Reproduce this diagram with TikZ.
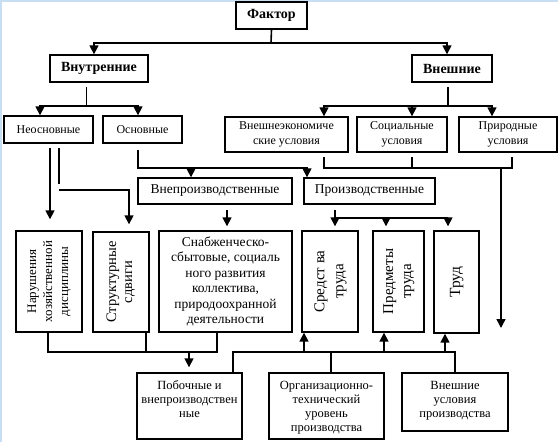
\documentclass[tikz,border=0pt]{standalone}
\usepackage{fontspec}
\setmainfont{Liberation Serif}
\usepackage{graphicx}
\usetikzlibrary{arrows.meta}
\definecolor{edgeblue}{RGB}{200,222,242}
\newcommand\tbox[4]{\parbox[c][#2][t]{#1}{\centering\rule{0pt}{#3}#4\par}}
\newcommand\vtext[1]{\rotatebox{90}{\begin{tabular}{@{}c@{}}#1\end{tabular}}}
\begin{document}
\begin{tikzpicture}[x=1pt,y=-1pt,
  box/.style={draw, line width=1.4pt, inner sep=0pt, align=center},
  bigf/.style={font=\fontsize{14}{16}\selectfont\bfseries},
  midf/.style={font=\fontsize{12}{15}\selectfont},
  medf/.style={font=\fontsize{13.5}{15.5}\selectfont},
  lowf/.style={font=\fontsize{12.5}{14.3}\selectfont},
  conn/.style={line width=1.6pt},
  thinconn/.style={line width=1pt},
  arr/.style={conn, -{Triangle[width=9pt,length=9pt]}}]
\useasboundingbox (0,0) rectangle (558,442);
\fill[edgeblue] (0,0) rectangle (2,442);
\fill[edgeblue] (0,0) rectangle (558,2);

% boxes
\node[box, bigf, minimum width=71, minimum height=27] (factor) at (271.5,15.5) {Фактор};
\node[box, bigf, minimum width=98, minimum height=27] (vnutr) at (99,68.5) {Внутренние};
\node[box, bigf, minimum width=80, minimum height=27] (vnesh) at (452,68.5) {Внешние};
\node[box, midf, minimum width=89, minimum height=27] (neosn) at (48.5,129.5) {Неосновные};
\node[box, midf, minimum width=79, minimum height=27] (osn) at (142.5,129.5) {Основные};
\node[box, midf, minimum width=123, minimum height=35] (vneshek) at (286.5,134.5) {Внешнеэкономиче\\ские условия};
\node[box, midf, minimum width=90, minimum height=35] (soc) at (402,134.5) {Социальные\\условия};
\node[box, midf, minimum width=98, minimum height=35] (prir) at (508,134.5) {Природные\\условия};
\node[box, medf, minimum width=154, minimum height=26] (vneproizv) at (215,191) {Внепроизводственные};
\node[box, medf, minimum width=131, minimum height=26] (proizv) at (369.5,191) {Производственные};
\node[box, font=\fontsize{13}{16}\selectfont, minimum width=66, minimum height=101] (narush) at (49,281.5) {\vtext{Нарушения\\хозяйственной\\дисциплины}};
\node[box, font=\fontsize{14.5}{16}\selectfont, minimum width=56, minimum height=100] (strukt) at (121,282) {\vtext{Структурные\\сдвиги}};
\node[box, medf, minimum width=133, minimum height=101] (snab) at (225.5,281.5) {Снабженческо-\\сбытовые, социаль\\ного развития\\коллектива,\\природоохранной\\деятельности};
\node[box, font=\fontsize{15}{19}\selectfont, minimum width=56, minimum height=101] (sredst) at (330,281.5) {\vtext{Средст ва\\труда}};
\node[box, font=\fontsize{15}{18}\selectfont, minimum width=51, minimum height=101] (predm) at (398.5,281.5) {\vtext{Предметы\\труда}};
\node[box, font=\fontsize{15.5}{18}\selectfont, minimum width=45, minimum height=102] (trud) at (456.5,282) {\vtext{Труд}};
\node[box, lowf] (poboch) at (189.5,406) {\tbox{105pt}{66pt}{16pt}{Побочные и\\внепроизводствен\\ные}};
\node[box, lowf] (org) at (326.5,406) {\tbox{115pt}{66pt}{16pt}{Организационно-\\технический\\уровень\\производства}};
\node[box, lowf] (vneshusl) at (455,402) {\tbox{106pt}{58pt}{16pt}{Внешние\\условия\\производства}};

% Factor -> internal / external
\coordinate (fJ) at (271,43);
\draw[conn] (factor.south) -- (fJ);
\draw[arr] (fJ) -| ([xshift=-5pt]vnutr.north);
\draw[arr] (fJ) -| ([xshift=-5pt]vnesh.north);

% internal -> neosn / osn
\coordinate (iA) at (86,87);
\coordinate (iJ) at (86,106);
\draw[thinconn] (iA) -- (iJ);
\draw[arr] (iJ) -| ([xshift=-8.5pt]neosn.north);
\draw[arr] (iJ) -| ([xshift=-4.5pt]osn.north);

% external -> three conditions
\coordinate (eA) at (448,87);
\coordinate (eJ) at (448,106);
\draw[conn] (eA) -- (eJ);
\draw[arr] (eJ) -| ([xshift=37.5pt]vneshek.north);
\draw[arr] (eJ) -| ([xshift=10pt]soc.north);
\draw[arr] (eJ) -| ([xshift=-16pt]prir.north);

% conditions collector -> free arrow
\coordinate (c1) at (324,157);
\coordinate (c2) at (412,157);
\coordinate (c3) at (512,157);
\coordinate (c1b) at (324,168);
\coordinate (c3b) at (512,168);
\coordinate (xJ) at (501,168);
\coordinate (xEnd) at (501,328);
\draw[conn] (c1) -- (c1b) -- (c3b) -- (c3);
\draw[conn] (c2) -- (c2 |- c1b);
\draw[arr] (xJ) -- (xEnd);

% osn -> vneproizv / proizv
\coordinate (oA) at (138,150);
\coordinate (oJ) at (138,168);
\draw[arr] (oA) -- (oJ) -| ([xshift=-62.5pt]proizv.north);
\draw[arr] (oJ) -| ([xshift=-24pt]vneproizv.north);

% neosn -> narush / strukt
\coordinate (n1) at (50,148);
\draw[arr, shorten >=11pt] (n1) -- (n1 |- narush.north);
\coordinate (n2) at (59,148);
\coordinate (n2e) at (59,184);
\coordinate (n2b) at (59,190);
\draw[conn] (n2) -- (n2e);
\draw[arr, shorten >=7pt] (n2b) -| ([xshift=8pt]strukt.north);

% vneproizv -> snab
\coordinate (vA) at (227,210);
\draw[arr, shorten >=4pt] (vA) -- (vA |- snab.north);

% proizv -> sredst / predm / trud
\coordinate (pA) at (335,210);
\coordinate (pJ) at (335,218);
\draw[arr, shorten >=4pt] (pA) -- (pA |- sredst.north);
\draw[arr, shorten >=4pt] (pJ) -| ([xshift=-12.5pt]predm.north);
\draw[arr, shorten >=4pt] (pJ) -| ([xshift=-8.5pt]trud.north);

% bottom left collector -> poboch
\coordinate (b1) at (48,352);
\coordinate (b2) at (146,352);
\coordinate (b3) at (217,352);
\coordinate (bJ) at (189,352);
\draw[conn] (narush.south -| b1) -- (b1) -- (b3) -- (snab.south -| b3);
\draw[conn] (strukt.south -| b2) -- (b2);
\draw[arr, shorten >=5pt] (bJ) -- (bJ |- poboch.north);

% bottom right collector -> production factors
\coordinate (r0) at (233,352);
\coordinate (r2) at (331,352);
\coordinate (r4) at (455,352);
\draw[conn] (poboch.north -| r0) -- (r0) -- (r4) -- (r4 |- vneshusl.north);
\draw[conn] (r2) -- (r2 |- org.north);
\coordinate (u1) at (304,352);
\coordinate (u2) at (384,352);
\coordinate (u3) at (445,352);
\draw[arr] (u1) -- (u1 |- sredst.south);
\draw[arr] (u2) -- (u2 |- predm.south);
\draw[arr] (u3) -- (u3 |- trud.south);
\end{tikzpicture}
\end{document}
